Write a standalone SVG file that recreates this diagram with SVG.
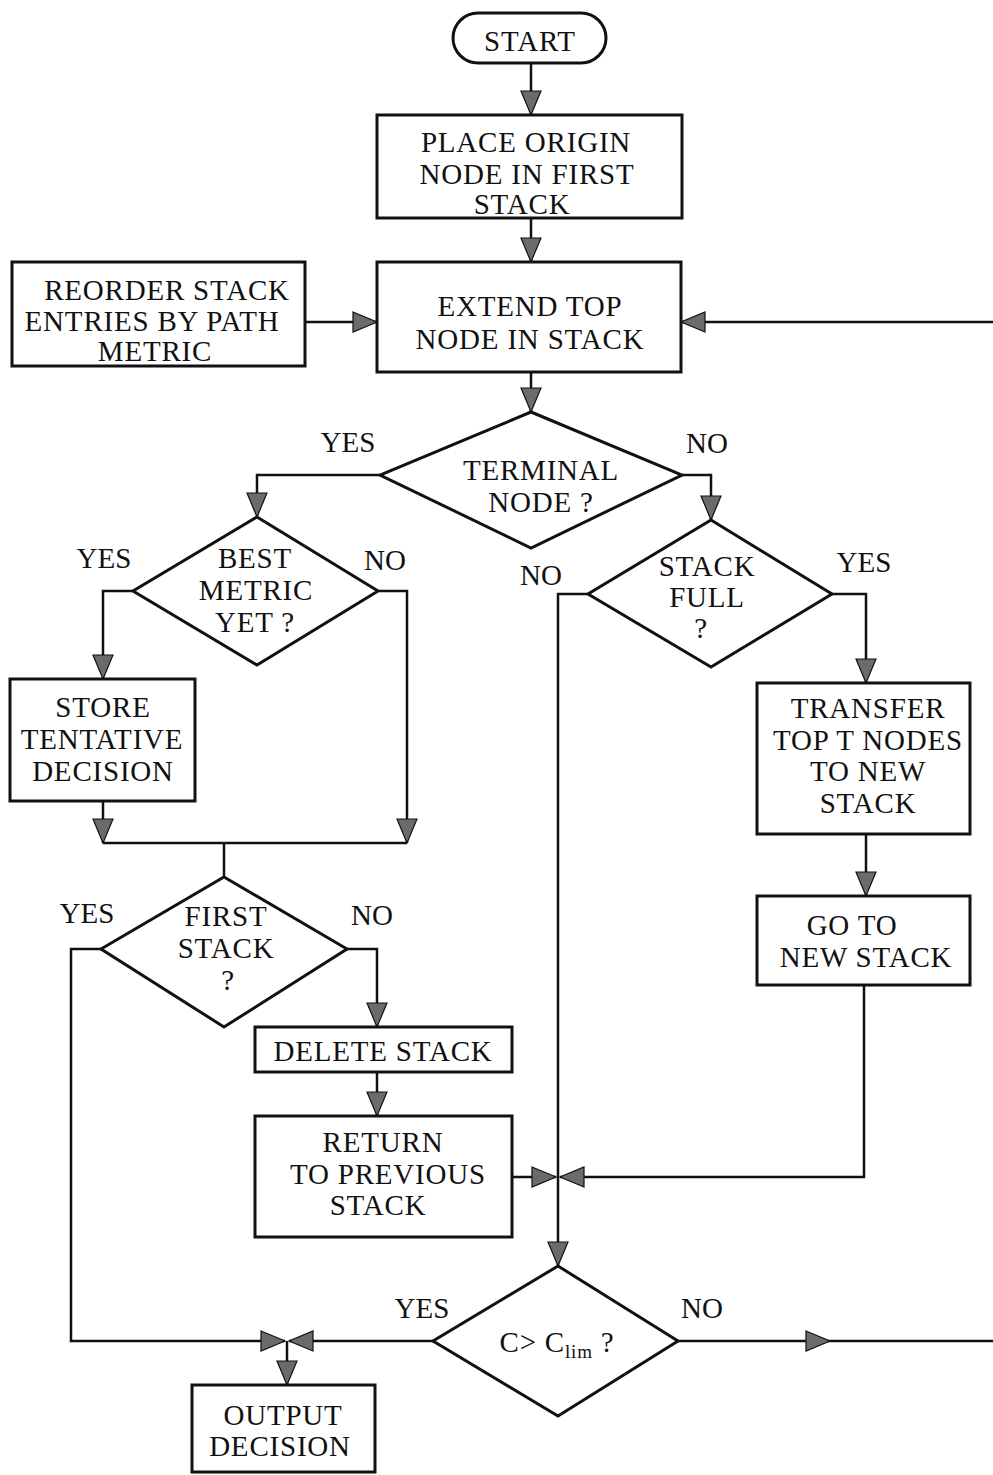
<svg xmlns="http://www.w3.org/2000/svg" width="993" height="1475" viewBox="0 0 993 1475">
<style>
.shape{fill:#fff;stroke:#111;stroke-width:3}
.conn{fill:none;stroke:#111;stroke-width:2.5}
text{font-family:"Liberation Serif","Times New Roman",serif;font-size:29px;letter-spacing:0.8px;fill:#111;text-anchor:middle}
.lbl{font-size:29px;letter-spacing:0}
</style>
<defs>
<marker id="arr" markerUnits="userSpaceOnUse" markerWidth="24" markerHeight="20" viewBox="0 0 24 20" refX="24" refY="10" orient="auto" overflow="visible">
<path d="M0,0 L24,10 L0,20 Z" fill="#6b6b6b" stroke="#111" stroke-width="1.2"/>
</marker>
</defs>
<rect width="993" height="1475" fill="#fff"/>

<g id="connectors">
<line class="conn" x1="531" y1="63" x2="531" y2="115" marker-end="url(#arr)"/>
<line class="conn" x1="531" y1="218" x2="531" y2="262" marker-end="url(#arr)"/>
<line class="conn" x1="305" y1="322" x2="377" y2="322" marker-end="url(#arr)"/>
<line class="conn" x1="993" y1="322" x2="681" y2="322" marker-end="url(#arr)"/>
<line class="conn" x1="531" y1="372" x2="531" y2="412" marker-end="url(#arr)"/>
<polyline class="conn" points="380,475 257,475 257,517" marker-end="url(#arr)"/>
<polyline class="conn" points="682,475 711,475 711,520" marker-end="url(#arr)"/>
<polyline class="conn" points="133,591 103,591 103,679" marker-end="url(#arr)"/>
<polyline class="conn" points="378,591 407,591 407,843" marker-end="url(#arr)"/>
<line class="conn" x1="103" y1="801" x2="103" y2="843" marker-end="url(#arr)"/>
<line class="conn" x1="103" y1="843" x2="407" y2="843"/>
<line class="conn" x1="224" y1="843" x2="224" y2="877"/>
<polyline class="conn" points="101,949 71,949 71,1341 285,1341" marker-end="url(#arr)"/>
<polyline class="conn" points="347,949 377,949 377,1027" marker-end="url(#arr)"/>
<line class="conn" x1="377" y1="1072" x2="377" y2="1116" marker-end="url(#arr)"/>
<line class="conn" x1="512" y1="1177" x2="556" y2="1177" marker-end="url(#arr)"/>
<polyline class="conn" points="588,594 558,594 558,1266" marker-end="url(#arr)"/>
<polyline class="conn" points="832,594 866,594 866,683" marker-end="url(#arr)"/>
<line class="conn" x1="866" y1="834" x2="866" y2="896" marker-end="url(#arr)"/>
<polyline class="conn" points="864,985 864,1177 560,1177" marker-end="url(#arr)"/>
<line class="conn" x1="433" y1="1341" x2="289" y2="1341" marker-end="url(#arr)"/>
<line class="conn" x1="678" y1="1341" x2="830" y2="1341" marker-end="url(#arr)"/>
<line class="conn" x1="830" y1="1341" x2="993" y2="1341"/>
<line class="conn" x1="287" y1="1341" x2="287" y2="1385" marker-end="url(#arr)"/>
</g>

<g id="start">
<rect class="shape" x="453" y="13" width="153" height="50" rx="25"/>
<text x="530" y="51">START</text>
</g>
<g id="place-origin">
<rect class="shape" x="377" y="115" width="305" height="103"/>
<text x="526" y="152">PLACE ORIGIN</text>
<text x="527" y="184">NODE IN FIRST</text>
<text x="522" y="214">STACK</text>
</g>
<g id="reorder">
<rect class="shape" x="12" y="262" width="293" height="104"/>
<text x="167" y="300">REORDER STACK</text>
<text x="152" y="331">ENTRIES BY PATH</text>
<text x="155" y="361">METRIC</text>
</g>
<g id="extend">
<rect class="shape" x="377" y="262" width="304" height="110"/>
<text x="530" y="316">EXTEND TOP</text>
<text x="530" y="349">NODE IN STACK</text>
</g>
<g id="terminal">
<polygon class="shape" points="531,412 682,475 531,548 380,475"/>
<text x="541" y="480">TERMINAL</text>
<text x="541" y="512">NODE ?</text>
<text class="lbl" x="348" y="452">YES</text>
<text class="lbl" x="707" y="453">NO</text>
</g>
<g id="best-metric">
<polygon class="shape" points="257,517 378,591 257,665 133,591"/>
<text x="255" y="568">BEST</text>
<text x="256" y="600">METRIC</text>
<text x="255" y="632">YET ?</text>
<text class="lbl" x="104" y="568">YES</text>
<text class="lbl" x="385" y="570">NO</text>
</g>
<g id="store">
<rect class="shape" x="10" y="679" width="185" height="122"/>
<text x="103" y="717">STORE</text>
<text x="102" y="749">TENTATIVE</text>
<text x="103" y="781">DECISION</text>
</g>
<g id="stack-full">
<polygon class="shape" points="711,520 832,594 711,667 588,594"/>
<text x="707" y="576">STACK</text>
<text x="707" y="607">FULL</text>
<text x="701" y="638">?</text>
<text class="lbl" x="541" y="585">NO</text>
<text class="lbl" x="864" y="572">YES</text>
</g>
<g id="transfer">
<rect class="shape" x="757" y="683" width="213" height="151"/>
<text x="868" y="718">TRANSFER</text>
<text x="868" y="750">TOP T NODES</text>
<text x="868" y="781">TO NEW</text>
<text x="868" y="813">STACK</text>
</g>
<g id="go-to">
<rect class="shape" x="757" y="896" width="213" height="89"/>
<text x="852" y="935">GO TO</text>
<text x="866" y="967">NEW STACK</text>
</g>
<g id="first-stack">
<polygon class="shape" points="224,877 347,949 224,1027 101,949"/>
<text x="226" y="926">FIRST</text>
<text x="226" y="958">STACK</text>
<text x="228" y="990">?</text>
<text class="lbl" x="87" y="923">YES</text>
<text class="lbl" x="372" y="925">NO</text>
</g>
<g id="delete-stack">
<rect class="shape" x="255" y="1027" width="257" height="45"/>
<text x="383" y="1061">DELETE STACK</text>
</g>
<g id="return">
<rect class="shape" x="255" y="1116" width="257" height="121"/>
<text x="383" y="1152">RETURN</text>
<text x="388" y="1184">TO PREVIOUS</text>
<text x="378" y="1215">STACK</text>
</g>
<g id="c-lim">
<polygon class="shape" points="558,1266 678,1341 558,1416 433,1341"/>
<text x="557" y="1352">C&gt; C<tspan font-size="19" dy="6">lim</tspan><tspan dy="-6"> ?</tspan></text>
<text class="lbl" x="422" y="1318">YES</text>
<text class="lbl" x="702" y="1318">NO</text>
</g>
<g id="output">
<rect class="shape" x="192" y="1385" width="183" height="87"/>
<text x="283" y="1425">OUTPUT</text>
<text x="280" y="1456">DECISION</text>
</g>
</svg>
